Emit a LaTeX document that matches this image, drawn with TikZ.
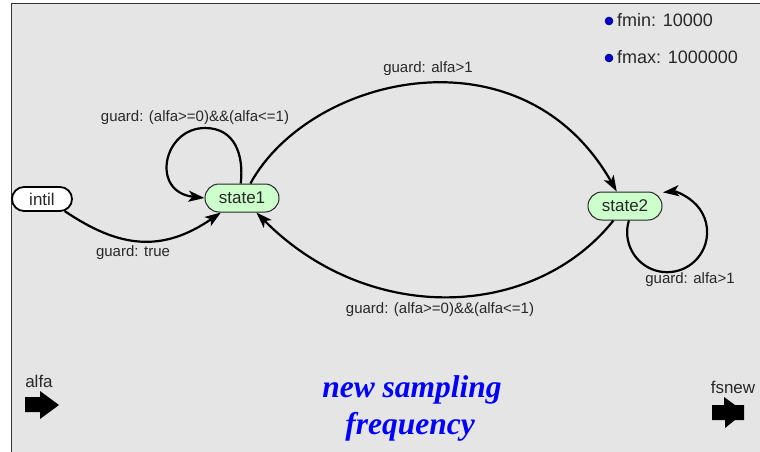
\documentclass[tikz,border=0pt]{standalone}
\usepackage{fontspec}
\setmainfont{Liberation Sans}
\newfontfamily\serifbi{Liberation Serif}
\usetikzlibrary{arrows.meta,shapes.misc}
\definecolor{bgray}{RGB}{229,229,229}
\definecolor{sgreen}{RGB}{204,255,204}
\definecolor{dotblue}{RGB}{0,0,204}
\definecolor{txt}{RGB}{40,40,40}
\begin{document}
\begin{tikzpicture}[x=1pt,y=-1pt,
  every node/.style={inner sep=0pt},
  statebox/.style={rounded rectangle, draw=black!85, line width=1pt, fill=sgreen,
    minimum width=74pt, minimum height=28pt, font=\fontsize{17}{20}\selectfont, text=txt},
  initbox/.style={rounded rectangle, draw=black, line width=1.8pt, fill=white,
    minimum width=60pt, minimum height=24pt, font=\fontsize{17}{20}\selectfont, text=txt},
  lbl/.style={font=\fontsize{15}{18}\selectfont, text=txt},
  legend/.style={font=\fontsize{18}{21}\selectfont, text=txt, anchor=west},
  dot/.style={circle, fill=dotblue, draw=blue!40!black, line width=0.5pt, minimum size=8pt},
  arr/.style={line width=2.2pt, -{Stealth[length=16pt,width=11pt,inset=4pt]}},
  portlbl/.style={font=\fontsize{17}{20}\selectfont, text=txt},
  title/.style={font=\serifbi\bfseries\itshape\fontsize{31.5}{35}\selectfont, text=blue, anchor=base}
]
\useasboundingbox (0,0) rectangle (760,452);
\fill[white] (0,0) rectangle (760,452);
\filldraw[fill=bgray, draw=black!80, line width=1pt] (11,4) rectangle (775,470);

% nodes
\node[initbox] (intil) at (42,199) {intil};
\node[statebox] (state1) at (242,198) {state1};
\node[statebox] (state2) at (625,206) {state2};

% transitions
\draw[arr] (intil.-28) .. controls (119,248) and (162,253) .. (state1);
\draw[arr] (state1.95) .. controls (244,155) and (235,128) .. (205,128)
   .. controls (163,128) and (150,192) .. (state1.west);
\draw[arr] (state1.60) .. controls (310,75) and (522,25) .. (state2);
\draw[arr] (state2) .. controls (534,320) and (369,326) .. (state1);
\draw[arr] (state2.-75) arc[start angle=197, end angle=-96, radius=40];

% labels
\node[lbl] (gtrue) at (133,253) {guard: true};
\node[lbl] (gloop1) at (195,118) {guard: (alfa>=0)\&\&(alfa<=1)};
\node[lbl] (gup) at (428,69) {guard: alfa>1};
\node[lbl] (gdown) at (440,310) {guard: (alfa>=0)\&\&(alfa<=1)};
\node[lbl] (gloop2) at (690,280) {guard: alfa>1};

% legend
\node[dot] (d1) at (609,21) {};
\node[legend] (fmin) at (617,20) {fmin: 10000};
\node[dot] (d2) at (609,58) {};
\node[legend] (fmax) at (617,57) {fmax: 1000000};

% ports
\node[portlbl] (alfa) at (39,381) {alfa};
\fill[black] (25,397) -- (40,397) -- (40,391) -- (59,405) -- (40,419) -- (40,412) -- (25,412) -- cycle;
\node[portlbl] (fsnew) at (733,387) {fsnew};
\fill[black] (712,405) -- (724,405) -- (724,397) -- (735,405) -- (744,405) -- (744,420)
  -- (735,420) -- (725,428) -- (725,420) -- (712,420) -- cycle;

% title
\node[title] (t1) at (412,397) {new sampling};
\node[title] (t2) at (410,434) {frequency};
\end{tikzpicture}
\end{document}
